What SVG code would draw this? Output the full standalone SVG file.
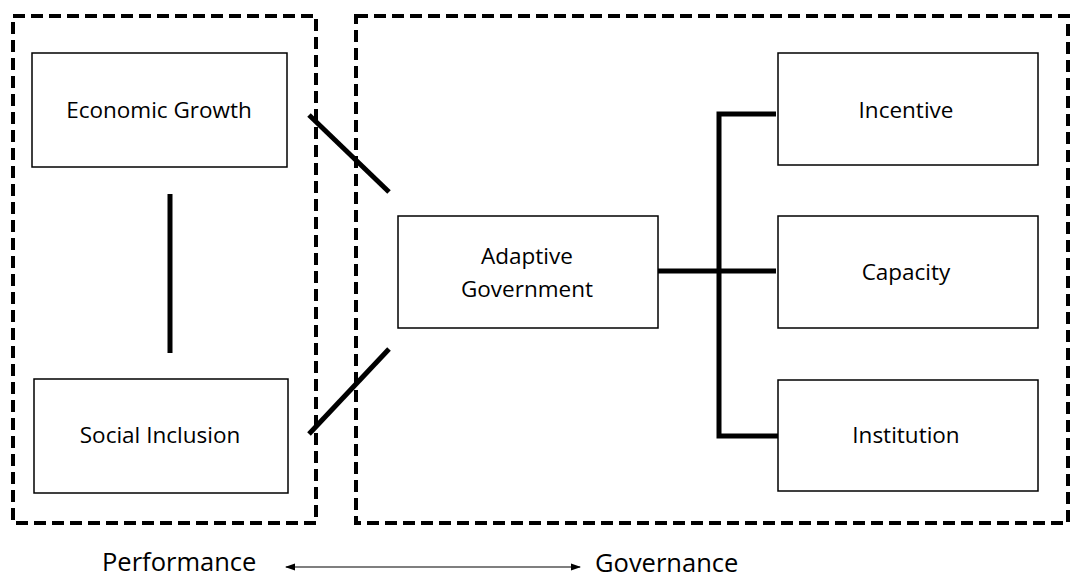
<svg xmlns="http://www.w3.org/2000/svg" width="1071" height="578" viewBox="0 0 1071 578">
<style>
.box{fill:#fff;stroke:#000;stroke-width:1.5}
.dash{fill:none;stroke:#000;stroke-width:4;stroke-dasharray:12,6}
.t{font-family:"Open Sans","Liberation Sans",sans-serif;font-size:22.5px;font-weight:500;text-anchor:middle;fill:#000}
.b{font-family:"Open Sans","Liberation Sans",sans-serif;font-size:25.5px;font-weight:500;fill:#000}
.c{stroke:#000;stroke-width:5;fill:none}
</style>
<defs>
<marker id="ah" markerWidth="10" markerHeight="8" refX="9" refY="4" orient="auto-start-reverse" markerUnits="userSpaceOnUse">
<path d="M0,0.5 L10,4 L0,7.5 Z" fill="#000"/>
</marker>
</defs>
<rect width="1071" height="578" fill="#fff"/>
<g id="performance-group"><rect class="dash" x="13" y="16" width="303" height="507"/></g>
<g id="governance-group"><rect class="dash" x="356" y="16" width="712" height="507"/></g>
<g id="connectors">
<line class="c" x1="170" y1="194" x2="170" y2="353"/>
<line class="c" x1="309" y1="115" x2="389" y2="192"/>
<line class="c" x1="389" y1="349" x2="309" y2="434"/>
<line class="c" x1="658" y1="271" x2="776" y2="271"/>
<polyline class="c" points="776,114 719,114 719,436 778,436"/>
<line x1="286" y1="567" x2="580" y2="567" stroke="#000" stroke-width="1.2" marker-start="url(#ah)" marker-end="url(#ah)"/>
</g>
<g id="economic-growth"><rect class="box" x="32" y="53" width="255" height="114"/><text class="t" x="159" y="118">Economic Growth</text></g>
<g id="social-inclusion"><rect class="box" x="34" y="379" width="254" height="114"/><text class="t" x="160" y="443">Social Inclusion</text></g>
<g id="adaptive-government"><rect class="box" x="398" y="216" width="260" height="112"/><text class="t" x="527" y="264">Adaptive</text><text class="t" x="527" y="297">Government</text></g>
<g id="incentive"><rect class="box" x="778" y="53" width="260" height="112"/><text class="t" x="906" y="118">Incentive</text></g>
<g id="capacity"><rect class="box" x="778" y="216" width="260" height="112"/><text class="t" x="906" y="280">Capacity</text></g>
<g id="institution"><rect class="box" x="778" y="380" width="260" height="111"/><text class="t" x="906" y="443">Institution</text></g>
<g id="labels"><text class="b" x="102" y="571">Performance</text><text class="b" x="595" y="572">Governance</text></g>
</svg>
